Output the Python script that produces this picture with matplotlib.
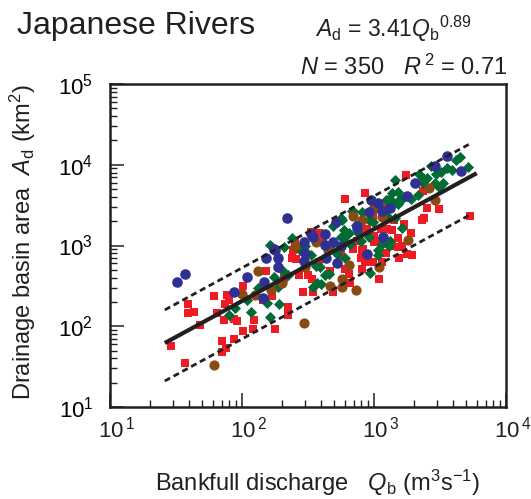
import numpy as np
import matplotlib
matplotlib.use("Agg")
import matplotlib.pyplot as plt
import matplotlib.transforms as mtransforms
from matplotlib.ticker import LogLocator, NullFormatter, FuncFormatter, FixedLocator

plt.rcParams['font.family'] = ['Liberation Sans', 'DejaVu Sans']
plt.rcParams['mathtext.fontset'] = 'custom'
plt.rcParams['mathtext.rm'] = 'Liberation Sans'
plt.rcParams['mathtext.it'] = 'Liberation Sans:italic'
plt.rcParams['mathtext.bf'] = 'Liberation Sans:bold'

# ---- river data: log10 of bankfull discharge Qb (m3/s) and basin area Ad (km2) ----
red_log_q = [1.46, 1.57, 1.59, 1.59, 1.64, 1.68, 1.79, 1.81, 1.87, 1.86,
             1.89, 1.90, 1.94, 1.96, 2.01, 2.01, 1.85, 1.94, 1.88, 1.85,
             2.09, 2.08, 2.16, 2.18, 2.23, 2.25, 2.35, 2.35, 2.46, 2.54,
             2.38, 2.41, 2.43, 2.50, 2.53, 2.32, 2.39, 2.40, 2.52, 2.58,
             2.61, 2.69, 2.78, 2.81, 2.91, 2.90, 2.92, 2.91, 2.91, 2.78,
             2.93, 3.24, 3.37, 3.40, 3.49, 3.38, 3.36, 3.73, 3.23, 3.28,
             3.15, 3.05, 3.10, 3.14, 3.18, 3.18, 3.25, 3.29, 2.99, 3.00,
             3.01, 3.05, 2.95, 3.14, 3.09, 3.19, 2.99, 3.04, 3.06, 3.21,
             3.00, 2.92, 3.07, 2.48, 2.58, 2.67, 2.75, 2.84, 2.87, 2.78,
             2.93, 2.82]
red_log_a = [1.75, 1.55, 2.28, 2.16, 2.18, 2.02, 2.37, 2.17, 2.28, 2.08,
             2.39, 2.33, 2.09, 2.07, 2.50, 1.94, 1.82, 1.84, 1.73, 1.68,
             2.08, 1.96, 2.32, 2.68, 2.38, 1.97, 2.24, 2.14, 2.42, 2.42,
             2.84, 2.83, 2.63, 2.63, 2.59, 2.60, 2.94, 3.06, 3.17, 3.15,
             3.06, 2.43, 2.71, 2.65, 2.71, 2.84, 2.86, 2.94, 3.17, 3.58,
             3.65, 3.87, 3.68, 3.47, 3.45, 3.34, 3.32, 3.36, 3.27, 3.16,
             3.31, 3.21, 3.21, 3.19, 3.09, 2.98, 2.90, 2.88, 3.35, 3.12,
             3.06, 3.06, 3.21, 3.00, 2.91, 2.84, 2.80, 2.59, 2.79, 3.00,
             3.04, 2.96, 3.47, 2.79, 2.79, 2.69, 2.88, 2.96, 3.06, 3.04,
             2.79, 2.54]

green_log_q = [1.90, 1.95, 2.04, 2.07, 2.19, 2.28, 2.21, 2.24, 2.31, 2.35,
               2.54, 2.60, 2.63, 2.59, 2.56, 2.78, 2.57, 2.21, 2.32, 2.38,
               2.69, 2.76, 2.83, 2.91, 2.77, 2.81, 2.75, 2.78, 2.72, 2.52,
               2.88, 2.27, 2.66, 3.65, 3.62, 3.71, 3.55, 3.51, 3.59, 3.47,
               3.43, 3.37, 3.37, 3.34, 3.16, 3.18, 3.14, 3.20, 3.18, 3.11,
               3.09, 3.33, 3.28, 3.46, 3.52, 3.49, 2.99, 3.03, 3.16, 3.21,
               2.96, 3.06, 3.12, 3.03, 3.03, 3.11, 2.96, 3.10, 2.84, 2.75,
               2.77, 2.82, 2.97, 3.40, 3.21, 3.15, 2.44, 2.48, 2.67, 2.86,
               2.90, 2.12]
green_log_a = [2.14, 2.22, 2.33, 2.18, 2.29, 2.28, 2.11, 2.61, 2.68, 2.63,
               2.48, 2.52, 2.64, 2.73, 2.75, 2.84, 2.54, 3.01, 2.98, 3.09,
               3.24, 3.32, 3.43, 3.42, 3.19, 3.15, 3.10, 3.04, 2.90, 2.88,
               3.15, 2.48, 2.65, 4.09, 4.06, 3.97, 3.96, 3.91, 3.93, 3.89,
               3.99, 3.84, 3.77, 3.89, 3.81, 3.66, 3.65, 3.58, 3.52, 3.58,
               3.56, 3.62, 3.58, 3.77, 3.78, 3.72, 3.29, 3.46, 3.34, 3.22,
               3.10, 3.02, 3.06, 2.94, 2.88, 3.00, 3.31, 3.36, 3.43, 3.34,
               3.10, 3.02, 2.66, 3.83, 3.57, 3.53, 2.94, 3.00, 3.00, 3.25,
               3.06, 2.47]

brown_log_q = [1.79, 2.00, 2.12, 2.10, 2.22, 2.30, 2.47, 2.67, 2.76, 2.76,
               2.86, 2.81, 2.40, 2.56, 2.84, 2.91, 2.65, 3.42, 3.46, 2.99,
               3.06, 3.26, 3.04, 2.48]
brown_log_a = [1.52, 2.40, 2.68, 2.39, 2.45, 2.53, 2.04, 2.50, 2.59, 2.49,
               2.45, 2.76, 2.99, 3.04, 3.36, 3.32, 2.94, 3.71, 3.56, 3.45,
               3.35, 3.07, 2.73, 2.73]

blue_log_q = [1.51, 1.57, 1.94, 2.04, 2.16, 2.17, 2.18, 2.24, 2.27, 2.27,
              2.34, 2.47, 2.52, 2.54, 2.63, 2.71, 2.48, 2.47, 2.64, 2.69,
              2.72, 2.75, 2.87, 2.63, 3.55, 3.46, 3.66, 3.31, 3.25, 2.98,
              3.03, 2.96, 3.06, 3.12, 3.07, 2.95, 2.87, 2.25]
blue_log_a = [2.55, 2.65, 2.42, 2.61, 2.35, 2.55, 2.85, 2.96, 2.85, 2.73,
              3.34, 3.04, 3.14, 3.10, 3.14, 3.29, 2.91, 2.81, 2.84, 3.04,
              2.78, 3.00, 3.24, 3.01, 4.11, 3.98, 3.92, 3.77, 3.61, 3.56,
              3.53, 3.41, 3.43, 3.46, 3.10, 2.90, 3.22, 2.94]

# power-law fit Ad = coef * Qb^expo and its envelope (log10 offsets)
fit_coef = 3.41
fit_expo = 0.89
n_rivers = 350
r_squared = 0.71
fit_q_range = [26, 6000]
band_q_range = [26, 5250]
band_upper_dex = 0.41
band_lower_dex = -0.47

x_powers = [1, 2, 3, 4]
y_powers = [1, 2, 3, 4, 5]

# ---- figure ----
W, H = 531, 499
fig = plt.figure(figsize=(W / 100, H / 100), dpi=100)
ax = fig.add_axes([110 / W, 1 - 407 / H, 396 / W, 323 / H])
ax.set_xscale('log')
ax.set_yscale('log')
ax.set_xlim(10 ** x_powers[0], 10 ** x_powers[-1])
ax.set_ylim(10 ** y_powers[0], 10 ** y_powers[-1])

series = [
    (red_log_q, red_log_a, 's', 38, '#ED1C24'),
    (green_log_q, green_log_a, 'D', 32, '#006B35'),
    (brown_log_q, brown_log_a, 'o', 54, '#8B4A12'),
    (blue_log_q, blue_log_a, 'o', 58, '#2E3192'),
]
for lq, la, mk, sz, col in series:
    ax.scatter(10 ** np.array(lq), 10 ** np.array(la), marker=mk, s=sz,
               c=col, linewidths=0, zorder=3)

ink = '#231F20'
qf = np.logspace(np.log10(fit_q_range[0]), np.log10(fit_q_range[1]), 50)
ax.plot(qf, fit_coef * qf ** fit_expo, color=ink, lw=3.0, zorder=5,
        solid_capstyle='butt')
qb = np.logspace(np.log10(band_q_range[0]), np.log10(band_q_range[1]), 50)
for dex in (band_upper_dex, band_lower_dex):
    ax.plot(qb, fit_coef * qb ** fit_expo * 10 ** dex, color=ink, lw=2.0,
            linestyle=(0, (2.2, 1.4)), zorder=5)

# ---- axes styling ----
for sp in ax.spines.values():
    sp.set_linewidth(1.8)
    sp.set_color(ink)

ax.xaxis.set_major_locator(FixedLocator([10.0 ** k for k in x_powers]))
ax.yaxis.set_major_locator(FixedLocator([10.0 ** k for k in y_powers]))
ax.xaxis.set_minor_locator(LogLocator(base=10, subs=np.arange(2, 10)))
ax.yaxis.set_minor_locator(LogLocator(base=10, subs=np.arange(2, 10)))
ax.xaxis.set_minor_formatter(NullFormatter())
ax.yaxis.set_minor_formatter(NullFormatter())
ax.tick_params(which='both', direction='in', top=False, right=False, color=ink)
ax.tick_params(which='major', length=10, width=1.1)
ax.tick_params(which='minor', length=5, width=1.0)

ax.yaxis.set_major_formatter(
    FuncFormatter(lambda v, p: r"10$^{%d}$" % round(np.log10(v))))
ax.tick_params(axis='y', labelsize=16, pad=12)
ax.xaxis.set_major_formatter(NullFormatter())

base = mtransforms.blended_transform_factory(ax.transData, ax.transAxes)
for k in x_powers:
    tr = mtransforms.offset_copy(base, fig=fig, x=-8.9, y=-7, units='points')
    ax.text(10.0 ** k, 0, r"10$^{\,%d}$" % k, transform=tr, ha='left',
            va='top', fontsize=16, color=ink)

# ---- labels ----
fig.text(17 / W, 1 - 34 / H, "Japanese Rivers", fontsize=23, va='baseline',
         ha='left', color=ink)
fig.text(315 / W, 1 - 37 / H,
         r"$A_{\mathrm{d}}$ = %.2f$Q_{\mathrm{b}}{}^{%.2f}$" % (fit_coef, fit_expo),
         fontsize=16.5, va='baseline', ha='left', color=ink)
fig.text(508 / W, 1 - 75 / H,
         r"$N$ = %d   $R^{\,2}$ = %.2f" % (n_rivers, r_squared),
         fontsize=17, va='baseline', ha='right', color=ink)
fig.text(23 / W, 1 - 242 / H,
         r"Drainage basin area  $A_{\mathrm{d}}$ (km$^{2}$)",
         rotation=90, fontsize=17, ha='center', va='center', color=ink)
fig.text(318 / W, 1 - 491 / H,
         r"Bankfull discharge   $Q_{\mathrm{b}}$ (m$^{3}$s$^{-1}$)",
         fontsize=17, ha='center', va='baseline', color=ink)

fig.savefig("out.png", dpi=100)
